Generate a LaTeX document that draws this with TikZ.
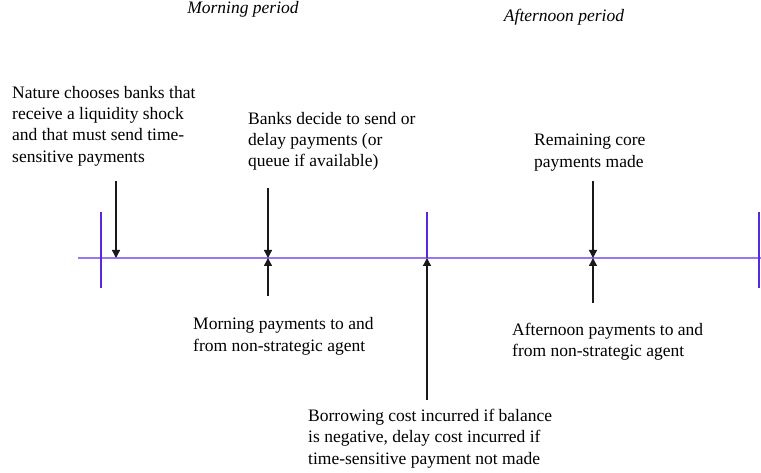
\documentclass[tikz,border=0pt]{standalone}
\usepackage{fontspec}
\setmainfont{Liberation Serif}
\usetikzlibrary{arrows.meta}
\begin{document}
\begin{tikzpicture}[x=1pt,y=-1pt,
  lbl/.style={anchor=north west,inner sep=0pt,align=left,font=\fontsize{17.5}{21.3}\selectfont},
  per/.style={anchor=base,inner sep=0pt,font=\fontsize{17.5}{21}\selectfont\itshape},
  tl/.style={draw={rgb,255:red,150;green,120;blue,240},line width=1.8pt},
  tick/.style={draw={rgb,255:red,90;green,40;blue,220},line width=1.4pt},
  arr/.style={draw=black!90,line width=1.3pt,-{Triangle[width=8pt,length=8pt]}}]
\useasboundingbox (0,0) rectangle (761,473);
% timeline
\coordinate (L) at (78,258);
\coordinate (R) at (761,258);
\draw[tl] (L) -- (R);
\coordinate (t1a) at (101,212); \coordinate (t1b) at (101,288);
\coordinate (t2a) at (427,212); \coordinate (t2b) at (427,258);
\coordinate (t3a) at (759,212); \coordinate (t3b) at (759,288);
\draw[tick] (t1a) -- (t1b);
\draw[tick] (t2a) -- (t2b);
\draw[tick] (t3a) -- (t3b);
% period labels
\node[per] (morn) at (243,14) {Morning period};
\node[per] (aft) at (564,22) {Afternoon period};
% text labels
\node[lbl] (nature) at (12,86) {Nature chooses banks that\\receive a liquidity shock\\and that must send time-\\sensitive payments};
\node[lbl] (banks) at (248,112) {Banks decide to send or\\delay payments (or\\queue if available)};
\node[lbl] (remain) at (534,134) {Remaining core\\payments made};
\node[lbl] (mpay) at (193,317.5) {Morning payments to and\\from non-strategic agent};
\node[lbl] (apay) at (512,323) {Afternoon payments to and\\from non-strategic agent};
\node[lbl] (borrow) at (308,409) {Borrowing cost incurred if balance\\is negative, delay cost incurred if\\time-sensitive payment not made};
% arrows
\coordinate (a1s) at (116,181); \coordinate (a1e) at (116,258);
\coordinate (a2s) at (268,188); \coordinate (a2e) at (268,258);
\coordinate (a2u) at (268,296);
\coordinate (a3s) at (427,400); \coordinate (a3e) at (427,258);
\coordinate (a4s) at (593,181); \coordinate (a4e) at (593,258);
\coordinate (a4u) at (593,303);
\draw[arr] (a1s) -- (a1e);
\draw[arr] (a2s) -- (a2e);
\draw[arr] (a2u) -- (a2e);
\draw[arr] (a3s) -- (a3e);
\draw[arr] (a4s) -- (a4e);
\draw[arr] (a4u) -- (a4e);
\end{tikzpicture}
\end{document}
